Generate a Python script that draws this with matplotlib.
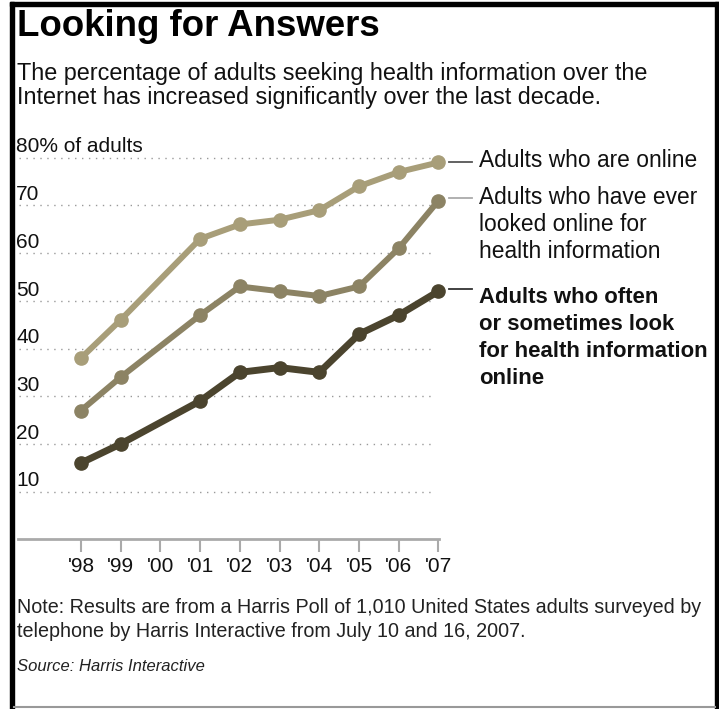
import matplotlib
matplotlib.use("Agg")
import matplotlib.pyplot as plt
from matplotlib.patches import Rectangle

# data (no survey point for 2000)
years = [1998, 1999, 2001, 2002, 2003, 2004, 2005, 2006, 2007]
online = [38, 46, 63, 66, 67, 69, 74, 77, 79]
ever_looked = [27, 34, 47, 53, 52, 51, 53, 61, 71]
often_look = [16, 20, 29, 35, 36, 35, 43, 47, 52]

tick_years = list(range(1998, 2008))
tick_labels = ["'98", "'99", "'00", "'01", "'02", "'03", "'04", "'05", "'06", "'07"]
grid_vals = [10, 20, 30, 40, 50, 60, 70, 80]
grid_labels = ["10", "20", "30", "40", "50", "60", "70", "80% of adults"]

label_online = ["Adults who are online"]
label_ever = ["Adults who have ever", "looked online for", "health information"]
label_often = ["Adults who often", "or sometimes look", "for health information", "online"]

c_online = "#a89e79"
c_ever = "#8c8364"
c_often = "#4b442e"

W, H = 719, 709
fig = plt.figure(figsize=(W / 100, H / 100), dpi=100)
plt.rcParams['font.family'] = ['Liberation Sans', 'DejaVu Sans']

# background axes in pixel coords for frame and text
bg = fig.add_axes([0, 0, 1, 1])
bg.set_xlim(0, W)
bg.set_ylim(H, 0)
bg.axis("off")

bg.add_patch(Rectangle((10, 2), 4, H, color="black"))
bg.add_patch(Rectangle((10, 2), W - 10, 4, color="black"))
bg.add_patch(Rectangle((715, 2), 4, H, color="black"))
bg.plot([14, 715], [707, 707], color="#999999", lw=1.5)

bg.text(17, 36, "Looking for Answers", fontsize=26.4, fontweight="bold", va="baseline")
bg.text(17, 80, "The percentage of adults seeking health information over the",
        fontsize=16.8, va="baseline", color="#111111")
bg.text(17, 104, "Internet has increased significantly over the last decade.",
        fontsize=16.8, va="baseline", color="#111111")

bg.text(17, 613, "Note: Results are from a Harris Poll of 1,010 United States adults surveyed by",
        fontsize=14.2, va="baseline", color="#222222")
bg.text(17, 637, "telephone by Harris Interactive from July 10 and 16, 2007.",
        fontsize=14.2, va="baseline", color="#222222")
bg.text(17, 671, "Source: Harris Interactive", fontsize=12, style="italic",
        va="baseline", color="#222222")

# labels at the right, one line per text, 27 px apart
def label_block(lines, y0, bold=False, size=16.3):
    for i, ln in enumerate(lines):
        bg.text(479, y0 + 27 * i, ln, fontsize=size, va="baseline", color="#111111",
                fontweight="bold" if bold else "normal")

bg.plot([449, 472], [162, 162], color="#555555", lw=1.3)
label_block(label_online, 167, size=16.4)
bg.plot([449, 472], [198, 198], color="#aaaaaa", lw=1.3)
label_block(label_ever, 204, size=16.4)
bg.plot([449, 472], [289, 289], color="#333333", lw=1.3)
label_block(label_often, 303, bold=True, size=15.9)

# chart axes
left, right, top, bottom = 18, 439, 140, 539.3
ax = fig.add_axes([left / W, 1 - bottom / H, (right - left) / W, (bottom - top) / H])
ax.patch.set_alpha(0)
ax.set_xlim(1996.414, 2007.013)
ax.set_ylim(0, (bottom - top) / 4.77)
for s in ["left", "right", "top"]:
    ax.spines[s].set_visible(False)
ax.spines["bottom"].set_color("#aaaaaa")
ax.spines["bottom"].set_linewidth(2)
ax.set_yticks([])
ax.set_xticks(tick_years)
ax.set_xticklabels(tick_labels, fontsize=15, color="#111111")
ax.tick_params(axis="x", length=9, width=1.5, color="#aaaaaa", pad=4)

ax.hlines(grid_vals, 1996.45, 2006.9, colors="#999999", lw=1.0,
          linestyles=(0, (1, 4)), zorder=1)
for v, lab in zip(grid_vals, grid_labels):
    ax.text(1996.37, v + 1.1, lab, fontsize=15, va="baseline", ha="left", color="#111111")

ax.plot(years, online, color=c_online, lw=4.3, marker="o", ms=9.5, zorder=3, clip_on=False)
ax.plot(years, ever_looked, color=c_ever, lw=4.3, marker="o", ms=9.5, zorder=3, clip_on=False)
ax.plot(years, often_look, color=c_often, lw=5, marker="o", ms=9.5, zorder=4, clip_on=False)

fig.savefig("out.png", dpi=100)
